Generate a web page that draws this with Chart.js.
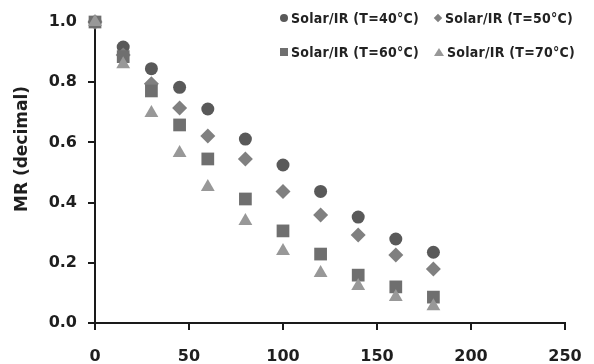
<!DOCTYPE html>
<html>
<head>
<meta charset="utf-8">
<script src="https://cdn.jsdelivr.net/npm/chart.js@4"></script>
<style>
  body { margin: 0; background: #fff; }
  #wrap { position: relative; width: 594px; height: 364px; }
  #chart { display: block; }
  .legend { position: absolute; left: 0; top: 0; font: bold 14px "DejaVu Sans Condensed", "DejaVu Sans", sans-serif; letter-spacing: 0.25px; color: #222; white-space: nowrap; }
  .item { position: absolute; display: flex; align-items: center; }
  .mk { display: inline-block; margin-right: 3px; }
</style>
</head>
<body>
<div id="wrap">
  <canvas id="chart" width="594" height="364"></canvas>
  <div class="legend">
    <div class="item" style="left:280px; top:10px;"><span class="mk" style="width:8px;height:8px;border-radius:50%;background:#595959;"></span>Solar/IR (T=40°C)</div>
    <div class="item" style="left:434px; top:10px;"><span class="mk" style="width:6px;height:6px;transform:rotate(45deg);background:#808080;margin:0 4px 0 1px;"></span>Solar/IR (T=50°C)</div>
    <div class="item" style="left:280px; top:44px;"><span class="mk" style="width:8px;height:8px;background:#6f6f6f;"></span>Solar/IR (T=60°C)</div>
    <div class="item" style="left:434px; top:44px;"><span class="mk" style="width:0;height:0;border-left:5px solid transparent;border-right:5px solid transparent;border-bottom:8px solid #989898;"></span>Solar/IR (T=70°C)</div>
  </div>
</div>
<script>
// drying time (min) and moisture ratio per temperature
const times = [0, 15, 30, 45, 60, 80, 100, 120, 140, 160, 180];
const mr40 = [1.0, 0.917, 0.845, 0.783, 0.711, 0.611, 0.525, 0.437, 0.352, 0.279, 0.235];
const mr50 = [1.0, 0.89, 0.795, 0.714, 0.621, 0.545, 0.437, 0.359, 0.292, 0.226, 0.179];
const mr60 = [1.0, 0.885, 0.771, 0.658, 0.545, 0.412, 0.306, 0.229, 0.159, 0.12, 0.086];
const mr70 = [1.0, 0.86, 0.698, 0.565, 0.452, 0.339, 0.239, 0.166, 0.123, 0.086, 0.056];
const xTicks = [0, 50, 100, 150, 200, 250];
const yTitle = "MR (decimal)";

const toPoints = (ys) => times.map((t, i) => ({ x: t, y: ys[i] }));

// y axis title drawn a bit above the plot centre, like the original
const yTitlePlugin = {
  id: "yTitle",
  afterDraw(chart) {
    const ctx = chart.ctx;
    ctx.save();
    ctx.translate(23, 149);
    ctx.rotate(-Math.PI / 2);
    ctx.font = 'bold 17px "DejaVu Sans", sans-serif';
    ctx.fillStyle = "#1e1e1e";
    ctx.textAlign = "center";
    ctx.textBaseline = "middle";
    ctx.fillText(yTitle, 0, 0);
    ctx.restore();
  },
};

const tickFont = { family: "DejaVu Sans", size: 16, weight: "bold" };

new Chart(document.getElementById("chart"), {
  type: "scatter",
  data: {
    datasets: [
      { label: "Solar/IR (T=40°C)", data: toPoints(mr40), pointStyle: "circle", pointRadius: 6.5, backgroundColor: "#595959", borderWidth: 0, order: 4, clip: false },
      { label: "Solar/IR (T=50°C)", data: toPoints(mr50), pointStyle: "rectRot", pointRadius: 7.5, backgroundColor: "#808080", borderWidth: 0, order: 3, clip: false },
      { label: "Solar/IR (T=60°C)", data: toPoints(mr60), pointStyle: "rect", pointRadius: 9, backgroundColor: "#6f6f6f", borderWidth: 0, order: 2, clip: false },
      { label: "Solar/IR (T=70°C)", data: toPoints(mr70), pointStyle: "triangle", pointRadius: 8, backgroundColor: "#989898", borderWidth: 0, order: 1, clip: false },
    ],
  },
  options: {
    responsive: false,
    animation: false,
    devicePixelRatio: 1,
    layout: { padding: { top: 22, right: 29, left: 0, bottom: 0 } },
    plugins: { legend: { display: false }, tooltip: { enabled: false } },
    scales: {
      x: {
        type: "linear",
        min: 0,
        max: 250,
        afterBuildTicks: (s) => { s.ticks = xTicks.map((v) => ({ value: v })); },
        afterFit: (s) => {
          s.height = 41;
          // let the layout padding decide the right edge, not the label overhang
          s.paddingLeft = 0;
          s.paddingRight = 0;
        },
        border: { display: true, color: "#1a1a1a", width: 2 },
        grid: { drawOnChartArea: false, drawTicks: true, tickLength: 7, color: "#1a1a1a", lineWidth: 2 },
        ticks: { font: tickFont, color: "#1e1e1e", padding: 17, maxRotation: 0 },
      },
      y: {
        min: 0,
        max: 1,
        afterFit: (s) => { s.width = 95; },
        border: { display: true, color: "#1a1a1a", width: 2 },
        grid: { drawOnChartArea: false, drawTicks: true, tickLength: 7, color: "#1a1a1a", lineWidth: 2 },
        ticks: { stepSize: 0.2, font: tickFont, color: "#1e1e1e", padding: 11, callback: (v) => v.toFixed(1) },
      },
    },
  },
  plugins: [yTitlePlugin],
});
</script>
</body>
</html>
